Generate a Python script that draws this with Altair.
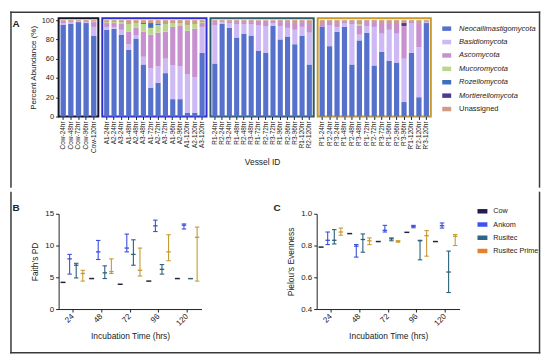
import altair as alt
import pandas as pd

FONT = "Liberation Sans"
INK = "#222222"
FRAME = "#3a3a3a"

# ---------------- Panel A data ----------------
phyla = ["Neocallimastigomycota", "Basidiomycota", "Ascomycota", "Mucoromycota",
         "Rozellomycota", "Mortierellomycota", "Unassigned"]
phyla_colors = ["#5571cc", "#cdb9f4", "#c790cf", "#b9d88d", "#3d6fbf", "#4b3b8f", "#d19c84"]
phyla_italic = [True, True, True, True, True, True, False]

cow_ids = ["Cow-24hr", "Cow-48hr", "Cow-72hr", "Cow-96hr", "Cow-120hr"]
cow_neo = [95, 96, 98, 97, 84]
cow_bas = [2, 1.5, 0.5, 1, 9]
cow_asc = [2, 1.5, 0.5, 1, 5]
cow_muc = [0, 0, 0, 0, 0.5]
cow_roz = [0, 0, 0, 0, 0]
cow_mor = [0, 0, 0, 0, 0]
cow_una = [1, 1, 1, 1, 1.5]

ank_ids = ["A1-24hr", "A2-24hr", "A3-24hr", "A1-48hr", "A2-48hr", "A3-48hr",
           "A1-72hr", "A2-72hr", "A3-72hr", "A1-96hr", "A2-96hr",
           "A1-120hr", "A2-120hr", "A3-120hr"]
ank_neo = [90, 91, 85, 69, 81, 54, 30, 35, 45, 18, 18, 4, 4, 66]
ank_bas = [3, 2, 5, 6, 3, 8, 20, 17, 15, 35, 34, 40, 37, 27]
ank_asc = [4, 4, 6, 13, 8, 26, 35, 35, 28, 40, 42, 45, 50, 4]
ank_muc = [1, 1, 2, 8, 5, 8, 7, 8, 8, 4, 3, 6, 5, 1]
ank_roz = [0, 0, 0, 0, 0, 1, 5, 1, 0, 0, 0, 0, 0, 0]
ank_mor = [0, 0, 0, 0, 0, 0, 0, 0, 0, 0, 0, 0, 0, 0]
ank_una = [2, 2, 2, 4, 3, 3, 3, 4, 4, 3, 3, 5, 4, 2]

rus_ids = ["R1-24hr", "R2-24hr", "R3-24hr", "R1-48hr", "R2-48hr", "R3-48hr",
           "R1-72hr", "R2-72hr", "R3-72hr", "R1-96hr", "R2-96hr", "R3-96hr",
           "R1-120hr", "R2-120hr"]
rus_neo = [55, 96, 92, 82, 86, 84, 68, 66, 94, 80, 83, 75, 84, 54]
rus_bas = [40, 2, 5, 14, 10, 12, 27, 28, 3, 14, 9, 15, 9, 33]
rus_asc = [3, 1, 2, 2, 2, 2, 3, 4, 2, 4, 6, 7, 5, 10]
rus_muc = [0, 0, 0, 0, 0, 0, 0, 0, 0, 0, 0, 0, 0, 0]
rus_roz = [0, 0, 0, 0, 0, 0, 0, 0, 0, 0, 0, 0, 0, 0]
rus_mor = [0, 0, 0, 0, 0, 0, 0, 0, 0, 0, 0, 0, 0, 0]
rus_una = [2, 1, 1, 2, 2, 2, 2, 2, 1, 2, 2, 3, 2, 3]

rp_ids = ["R'1-24hr", "R'2-24hr", "R'3-24hr", "R'1-48hr", "R'2-48hr", "R'3-48hr",
          "R'1-72hr", "R'2-72hr", "R'3-72hr", "R'1-96hr", "R'2-96hr", "R'3-96hr",
          "R'1-120hr", "R'2-120hr", "R'3-120hr"]
rp_neo = [93, 73, 88, 93, 54, 79, 87, 53, 67, 58, 56, 15, 66, 20, 97]
rp_bas = [0, 22, 5, 4, 42, 6, 7, 40, 19, 32, 30, 45, 31, 52, 1]
rp_asc = [3, 3, 4, 2, 2, 9, 4, 5, 10, 7, 10, 34, 2, 25, 1]
rp_muc = [0, 0, 0, 0, 0, 2, 0, 0, 0, 0, 0, 0, 0, 0, 0]
rp_roz = [0, 0, 0, 0, 0, 0, 0, 0, 0, 0, 0, 0, 0, 0, 0]
rp_mor = [0, 0, 0, 0, 0, 0, 0, 0, 0, 0, 0, 3, 0, 0, 0]
rp_una = [4, 2, 3, 1, 2, 4, 2, 2, 4, 3, 4, 3, 1, 3, 1]

# ---------------- Panels B / C data ----------------
times = ["24", "48", "72", "96", "120"]
series = ["Cow", "Ankom", "Rusitec", "Rusitec Prime"]
series_colors = ["#23233f", "#3a4fdc", "#2b5f7a", "#c99a32"]
legend_colors = ["#241c4e", "#3c52f2", "#2d6686", "#e8802a"]

faith_cow = [4.2, 4.8, 3.9, 4.4, 4.8]
faith_ank_mean = [7.9, 9.0, 9.6, 13.1, 13.2]
faith_ank_low = [5.5, 7.8, 9.0, 12.2, 12.6]
faith_ank_high = [8.6, 10.8, 11.8, 14.0, 13.4]
faith_rus_mean = [6.9, 5.7, 8.6, 6.25, 4.8]
faith_rus_low = [4.9, 4.8, 6.9, 5.5, 4.8]
faith_rus_high = [7.2, 6.8, 10.9, 7.0, 4.8]
faith_rp_mean = [5.6, 5.9, 6.1, 9.0, 11.3]
faith_rp_low = [4.4, 5.6, 5.2, 7.6, 4.4]
faith_rp_high = [6.1, 7.9, 9.6, 11.7, 12.9]

piel_cow = [0.79, 0.875, 0.825, 0.883, 0.825]
piel_ank_mean = [0.833, 0.796, 0.896, 0.921, 0.925]
piel_ank_low = [0.806, 0.727, 0.885, 0.912, 0.91]
piel_ank_high = [0.885, 0.806, 0.927, 0.927, 0.942]
piel_rus_mean = [0.833, 0.838, 0.842, 0.83, 0.633]
piel_rus_low = [0.81, 0.758, 0.83, 0.71, 0.504]
piel_rus_high = [0.9, 0.873, 0.848, 0.833, 0.765]
piel_rp_mean = [0.885, 0.83, 0.827, 0.862, 0.858]
piel_rp_low = [0.865, 0.806, 0.821, 0.733, 0.8]
piel_rp_high = [0.91, 0.848, 0.83, 0.894, 0.869]

ONE = pd.DataFrame({"k": [0]})


def frame_rules(top, bottom, left=-48, right=484.5, draw_top=False, draw_bottom=False):
    """Pieces of the outer figure frame (decoration, not data)."""
    out = []
    for xv in (left, right):
        out.append(alt.Chart(ONE).mark_rule(color=FRAME, strokeWidth=1.5, strokeCap="square").encode(
            x=alt.value(xv), y=alt.value(top), y2=alt.value(bottom)))
    if draw_top:
        out.append(alt.Chart(ONE).mark_rule(color=FRAME, strokeWidth=1.5, strokeCap="square").encode(
            y=alt.value(top), x=alt.value(left), x2=alt.value(right)))
    if draw_bottom:
        out.append(alt.Chart(ONE).mark_rule(color=FRAME, strokeWidth=1.5, strokeCap="square").encode(
            y=alt.value(bottom), x=alt.value(left), x2=alt.value(right)))
    return out


def stack_df(ids, cols):
    rows = []
    for i, vid in enumerate(ids):
        for k, ph in enumerate(phyla):
            rows.append({"vessel": vid, "phylum": ph, "ord": k,
                         "value": cols[k][i], "hex": phyla_colors[k]})
    return pd.DataFrame(rows)


def bar_panel(ids, cols, width, frame, show_y=False, x_title=None, extra=None):
    df = stack_df(ids, cols)
    yaxis = None
    if show_y:
        yaxis = alt.Axis(values=[0, 20, 40, 60, 80, 100], title="Percent Abundance (%)",
                         labelFontSize=7.5, titleFontSize=8, titlePadding=4, domain=False,
                         tickSize=3, labelPadding=2)
    bars = alt.Chart(df).mark_bar().encode(
        x=alt.X("vessel:N", sort=ids, scale=alt.Scale(domain=ids, paddingInner=0.3, paddingOuter=0.25),
                axis=alt.Axis(labelAngle=-90, labelFontSize=6.5, labelPadding=1.5, tickSize=3,
                              domain=False, title=x_title, titleFontSize=8.5, titlePadding=10)),
        y=alt.Y("value:Q", stack="zero", scale=alt.Scale(domain=[0, 102], nice=False), axis=yaxis),
        color=alt.Color("hex:N", scale=None),
        order=alt.Order("ord:Q"),
    )
    layers = [bars] + (extra or [])
    return alt.layer(*layers).properties(
        width=width, height=99, view=alt.ViewBackground(stroke=frame, strokeWidth=2))


letter_A = alt.Chart(pd.DataFrame({"t": ["A"]})).mark_text(
    font=FONT, fontSize=10, fontWeight="bold", align="left", baseline="middle", color=INK
).encode(text="t:N", x=alt.value(-46.5), y=alt.value(6))

cow_c = bar_panel(cow_ids, [cow_neo, cow_bas, cow_asc, cow_muc, cow_roz, cow_mor, cow_una],
                  40, "#15152a", show_y=True,
                  extra=[letter_A] + frame_rules(-6, 170, draw_top=True))
ank_c = bar_panel(ank_ids, [ank_neo, ank_bas, ank_asc, ank_muc, ank_roz, ank_mor, ank_una],
                  105, "#2d2dd2")
rus_c = bar_panel(rus_ids, [rus_neo, rus_bas, rus_asc, rus_muc, rus_roz, rus_mor, rus_una],
                  104, "#2e5a6a", x_title="Vessel ID")
rp_c = bar_panel(rp_ids, [rp_neo, rp_bas, rp_asc, rp_muc, rp_roz, rp_mor, rp_una],
                 114, "#c89a2a")

# legend for panel A
legA_df = pd.DataFrame({"name": phyla, "hex": phyla_colors, "italic": phyla_italic})
lyA = alt.Y("name:N", sort=phyla, scale=alt.Scale(domain=phyla, range=[10.5, 91.5], padding=0), axis=None)
legA_sw = alt.Chart(legA_df).mark_point(shape="M-1,-0.5H1V0.5H-1Z", filled=True, size=81, opacity=1).encode(
    y=lyA, x=alt.value(12), color=alt.Color("hex:N", scale=None))
legA_it = alt.Chart(legA_df).transform_filter("datum.italic").mark_text(
    font=FONT, fontSize=7.5, fontStyle="italic", align="left", baseline="middle", color=INK
).encode(y=lyA, x=alt.value(24.5), text="name:N")
legA_no = alt.Chart(legA_df).transform_filter("!datum.italic").mark_text(
    font=FONT, fontSize=7.5, align="left", baseline="middle", color=INK
).encode(y=lyA, x=alt.value(24.5), text="name:N")
legA = alt.layer(legA_sw, legA_it, legA_no).properties(width=104, height=99)


def err_df(groups):
    rows = []
    for k, (m, lo, hi) in enumerate(groups):
        for i, t in enumerate(times):
            rows.append({"time": t, "series": series[k], "mean": m[i], "low": lo[i],
                         "high": hi[i], "hex": series_colors[k]})
    return pd.DataFrame(rows)


def err_panel(df, domain, values, fmt, ytitle, letter, letter_x, extra=None):
    xaxis = alt.Axis(title="Incubation Time (hrs)", labelAngle=315, labelAlign="right",
                     labelBaseline="middle", labelFontSize=8, labelOffset=0,
                     titleFontSize=8.5, titlePadding=4, labelPadding=3, tickSize=3)
    xsc = alt.Scale(domain=times, paddingInner=0, paddingOuter=0)
    xo = alt.XOffset("series:N", sort=series,
                     scale=alt.Scale(domain=series, paddingInner=0, paddingOuter=0.17))
    yax = alt.Axis(title=ytitle, values=values, format=fmt, labelFontSize=8, titleFontSize=8.5,
                   titlePadding=5, tickSize=3, labelPadding=2)
    ysc = alt.Scale(domain=domain, nice=False, zero=False)
    col = alt.Color("hex:N", scale=None)

    def yq(field):
        return alt.Y(field, type="quantitative", scale=ysc, axis=yax)

    xn = alt.X("time:N", sort=times)
    base = alt.Chart(df)
    err = base.transform_filter("datum.series != 'Cow'")
    rule = err.mark_rule(strokeWidth=1.1).encode(
        x=alt.X("time:N", sort=times, scale=xsc, axis=xaxis), xOffset=xo,
        y=yq("low"), y2="high:Q", color=col)
    cap_hi = err.mark_tick(size=4.5, thickness=1.1, opacity=1).encode(
        x=xn, xOffset=xo, y=yq("high"), color=col)
    cap_lo = err.mark_tick(size=4.5, thickness=1.1, opacity=1).encode(
        x=xn, xOffset=xo, y=yq("low"), color=col)
    mean = err.mark_tick(size=4.5, thickness=1.3, opacity=1).encode(
        x=xn, xOffset=xo, y=yq("mean"), color=col)
    cow = base.transform_filter("datum.series == 'Cow'").mark_tick(size=5, thickness=1.5, opacity=1).encode(
        x=xn, xOffset=xo, y=yq("mean"), color=col)
    lt = alt.Chart(pd.DataFrame({"t": [letter]})).mark_text(
        font=FONT, fontSize=10, fontWeight="bold", align="left", baseline="middle", color=INK
    ).encode(text="t:N", x=alt.value(letter_x), y=alt.value(-5.5))
    layers = [rule, cap_hi, cap_lo, mean, cow, lt] + (extra or [])
    return alt.layer(*layers).properties(width=144, height=96)


faith_df = err_df([
    (faith_cow, faith_cow, faith_cow),
    (faith_ank_mean, faith_ank_low, faith_ank_high),
    (faith_rus_mean, faith_rus_low, faith_rus_high),
    (faith_rp_mean, faith_rp_low, faith_rp_high),
])
piel_df = err_df([
    (piel_cow, piel_cow, piel_cow),
    (piel_ank_mean, piel_ank_low, piel_ank_high),
    (piel_rus_mean, piel_rus_low, piel_rus_high),
    (piel_rp_mean, piel_rp_low, piel_rp_high),
])

panel_B = err_panel(faith_df, [0, 15], [0, 5, 10, 15], "d", "Faith's PD", "B", -46.5,
                    extra=frame_rules(-21.5, 140, draw_bottom=True))
panel_C = err_panel(piel_df, [0.4, 1.0], [0.4, 0.6, 0.8, 1.0], ".1f", "Pielou's Evenness", "C", -43.5)

spacer = alt.Chart(pd.DataFrame({"s": [""]})).mark_text().encode(text="s:N").properties(width=107.5, height=96)

legC_df = pd.DataFrame({"name": series, "hex": legend_colors})
lyC = alt.Y("name:N", sort=series, scale=alt.Scale(domain=series, range=[-2.5, 37.5], padding=0), axis=None)
legC_sw = alt.Chart(legC_df).mark_point(shape="M-1,-0.45H1V0.45H-1Z", filled=True, size=100, opacity=1).encode(
    y=lyC, x=alt.value(19), color=alt.Color("hex:N", scale=None))
legC_tx = alt.Chart(legC_df).mark_text(
    font=FONT, fontSize=7.3, align="left", baseline="middle", color=INK
).encode(y=lyC, x=alt.value(30), text="name:N")
legC = alt.layer(legC_sw, legC_tx).properties(width=74, height=96)

row1 = alt.hconcat(cow_c, ank_c, rus_c, rp_c, legA, spacing=4, bounds="flush")
row2 = alt.hconcat(panel_B, spacer, panel_C, legC, spacing=4, bounds="flush")

chart = alt.vconcat(row1, row2, spacing=0).properties(
    padding={"left": 0, "top": 0, "right": 0, "bottom": 0}
).resolve_scale(
    x="independent", y="independent"
).configure(font=FONT).configure_view(
    stroke="transparent"
).configure_axis(
    labelFont=FONT, titleFont=FONT, labelColor=INK, titleColor=INK,
    tickColor="#222222", domainColor="#222222", grid=False,
    titleFontWeight="normal", domainWidth=1, tickWidth=1
)

chart.save("out.html", embed_options={"renderer": "svg", "actions": False})
